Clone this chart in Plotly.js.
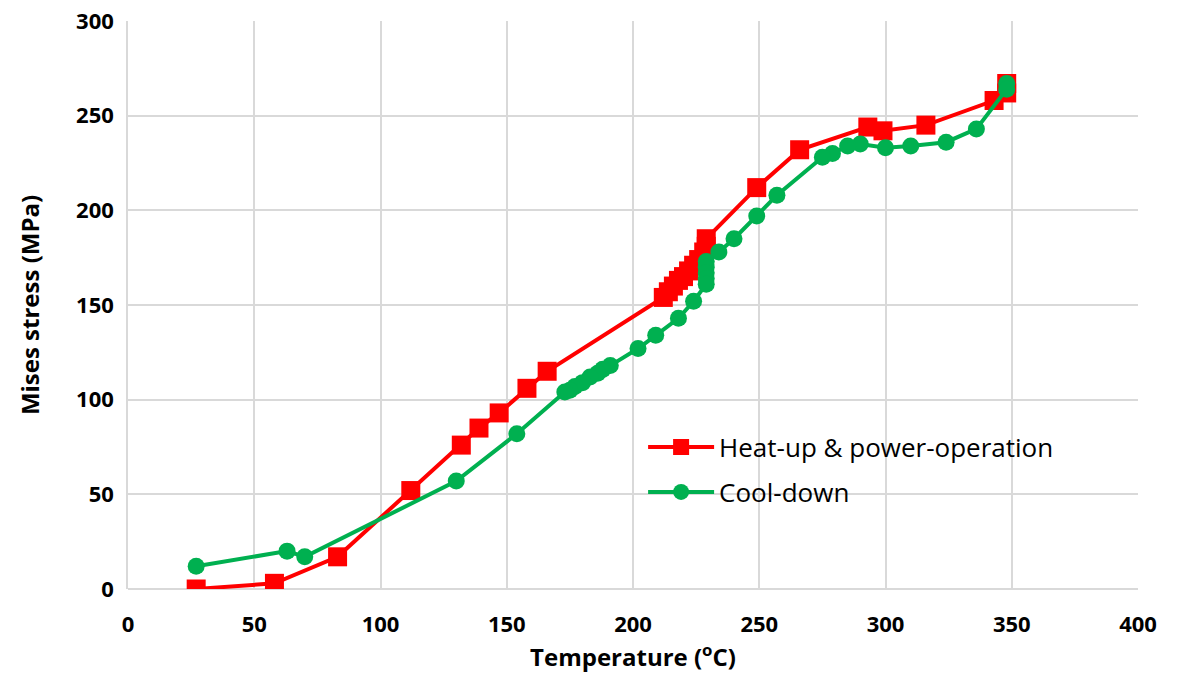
<!DOCTYPE html>
<html><head><meta charset="utf-8">
<script src="https://cdn.plot.ly/plotly-3.0.1.min.js"></script>
<style>body{margin:0;background:#fff}#c{width:1177px;height:675px}</style>
</head><body><div id="c"></div>
<script>
const heatX = [27, 58, 83, 112, 132, 139, 147, 158, 166, 212, 214, 216, 218, 220, 222, 224, 226, 228, 229, 229, 249, 266, 293, 299, 316, 343, 348, 348];
const heatY = [0, 3, 17, 52, 76, 85, 93, 106, 115, 154, 157, 160, 163, 165, 168, 171, 174, 178, 181, 185, 212, 232, 244, 242, 245, 258, 262, 267];
const coolX = [348, 348, 336, 324, 310, 300, 290, 285, 279, 275, 257, 249, 240, 234, 229, 229, 229, 229, 229, 224, 218, 209, 202, 191, 188, 186, 183, 180, 177, 175, 173, 154, 130, 70, 63, 27];
const coolY = [267, 264, 243, 236, 234, 233, 235, 234, 230, 228, 208, 197, 185, 178, 173, 170, 167, 164, 161, 152, 143, 134, 127, 118, 116, 114, 112, 109, 107, 105, 104, 82, 57, 17, 20, 12];
const heatName = 'Heat-up &amp; power-operation';
const coolName = 'Cool-down';
const xTicks = [0, 50, 100, 150, 200, 250, 300, 350, 400];
const yTicks = [0, 50, 100, 150, 200, 250, 300];

const fam = '"Open Sans", "Noto Sans", sans-serif';
const traces = [
  {x: heatX, y: heatY, name: heatName, legendgroup: 'a', mode: 'lines+markers', type: 'scatter',
   line: {color: '#ff0000', width: 4}, marker: {symbol: 'square', size: 19, color: '#ff0000'}},
  {x: coolX, y: coolY, name: coolName, legendgroup: 'b', mode: 'lines+markers', type: 'scatter',
   line: {color: '#00b050', width: 4}, marker: {symbol: 'circle', size: 17, color: '#00b050'}}
];
const layout = {
  width: 1177, height: 675,
  margin: {l: 128, r: 39, t: 21, b: 86},
  paper_bgcolor: '#fff', plot_bgcolor: '#fff',
  showlegend: true,
  legend: {x: 0.51, y: 0.291, xanchor: 'left', yanchor: 'top', traceorder: 'grouped', tracegroupgap: 8,
    itemwidth: 66,
    font: {family: fam, size: 26, color: '#000'}, bgcolor: 'rgba(0,0,0,0)'},
  xaxis: {range: [0, 400], tickvals: xTicks, showgrid: true, gridcolor: '#d9d9d9', gridwidth: 1.5,
    zeroline: false, showline: false, ticks: '', ticklabelstandoff: 20,
    tickfont: {family: fam, size: 22, color: '#000', weight: 'bold'},
    title: {text: 'Temperature (<sup>o</sup>C)', font: {family: fam, size: 24, color: '#000', weight: 'bold'}, standoff: 4}},
  yaxis: {range: [0, 300], tickvals: yTicks, showgrid: true, gridcolor: '#d9d9d9', gridwidth: 1.5,
    zeroline: true, zerolinecolor: '#d9d9d9', zerolinewidth: 1.5, showline: true, linecolor: '#d9d9d9', linewidth: 1.5, ticks: '',
    ticklabelstandoff: 8,
    tickfont: {family: fam, size: 22, color: '#000', weight: 'bold'},
    title: {text: 'Mises stress (MPa)', font: {family: fam, size: 24, color: '#000', weight: 'bold'}, standoff: 30}}
};
Plotly.newPlot('c', traces, layout, {displayModeBar: false});
</script>
</body></html>
